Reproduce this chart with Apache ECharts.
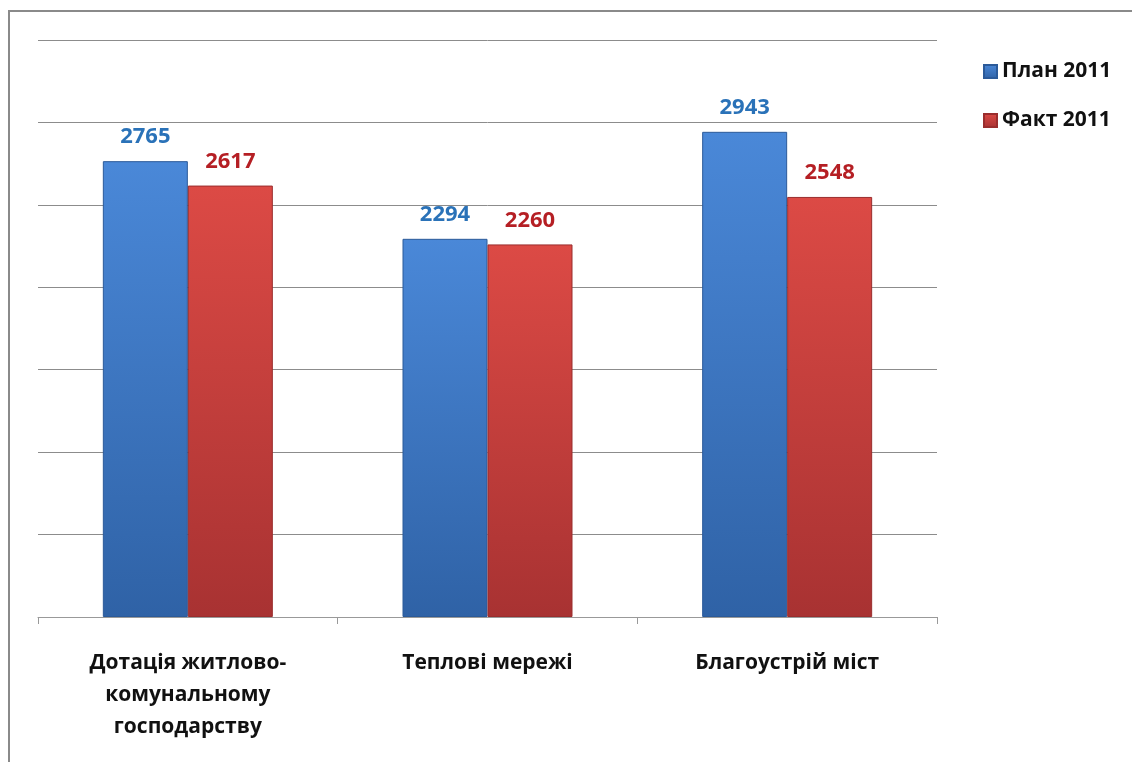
<!DOCTYPE html>
<html><head><meta charset="utf-8">
<script src="https://cdn.jsdelivr.net/npm/echarts@6/dist/echarts.min.js"></script>
<style>html,body{margin:0;padding:0;background:#fff}#c{width:1132px;height:762px}</style>
</head><body><div id="c"></div>
<script>
const categories = ['Дотація житлово-\nкомунальному\nгосподарству', 'Теплові мережі', 'Благоустрій міст'];
const seriesNames = ['План 2011', 'Факт 2011'];
const plan2011 = [2765, 2294, 2943];
const fact2011 = [2617, 2260, 2548];

const FONT = '"Open Sans", "Noto Sans", sans-serif';
const chart = echarts.init(document.getElementById('c'));
function grad(top, bottom) {
  return new echarts.graphic.LinearGradient(0, 0, 0, 1, [
    {offset: 0, color: top}, {offset: 1, color: bottom}
  ]);
}
chart.setOption({
  animation: false,
  backgroundColor: '#fff',
  graphic: [{
    type: 'rect', silent: true, z: -10,
    shape: {x: 9, y: 11, width: 1200, height: 800},
    style: {fill: 'none', stroke: '#8a8a8a', lineWidth: 2}
  }],
  grid: {left: 38, right: 195, top: 40, bottom: 145, containLabel: false},
  legend: {
    orient: 'vertical', left: 978, top: 56, itemGap: 28,
    itemWidth: 13, itemHeight: 13, icon: 'rect',
    textStyle: {fontFamily: FONT, fontWeight: 'bold', fontSize: 21, color: '#111'},
    data: seriesNames
  },
  xAxis: {
    type: 'category', data: categories,
    axisLine: {lineStyle: {color: '#999', width: 1}},
    axisTick: {show: true, length: 7, lineStyle: {color: '#999'}},
    axisLabel: {margin: 30, fontFamily: FONT, fontWeight: 'bold', fontSize: 21, color: '#111', lineHeight: 32, interval: 0}
  },
  yAxis: {
    type: 'value', min: 0, max: 3500, interval: 500,
    axisLabel: {show: false}, axisLine: {show: false}, axisTick: {show: false},
    splitLine: {lineStyle: {color: '#8c8c8c', width: 1}}
  },
  series: [{
    name: seriesNames[0], type: 'bar', data: plan2011,
    barWidth: 85, barGap: '0%',
    itemStyle: {color: grad('#4a88d8', '#2f62a6'), borderColor: '#2b5a99', borderWidth: 1},
    label: {show: true, position: 'top', distance: 13, fontFamily: FONT, fontWeight: 'bold', fontSize: 22, color: '#2a72b8'}
  }, {
    name: seriesNames[1], type: 'bar', data: fact2011,
    barWidth: 85, barGap: '0%',
    itemStyle: {color: grad('#dc4a45', '#a83232'), borderColor: '#9a2d2d', borderWidth: 1},
    label: {show: true, position: 'top', distance: 13, fontFamily: FONT, fontWeight: 'bold', fontSize: 22, color: '#b51f24'}
  }]
});
</script></body></html>
